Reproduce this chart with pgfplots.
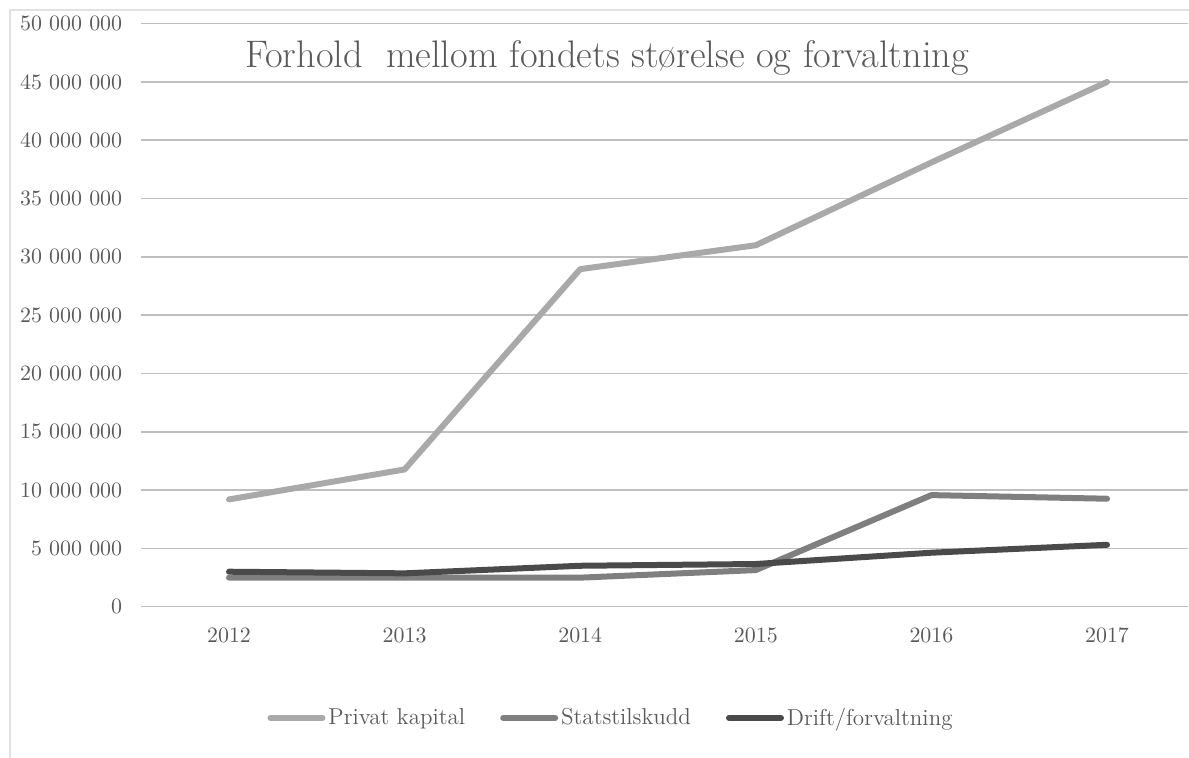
\documentclass[border=0pt]{standalone}
\usepackage{pgfplots}
\pgfplotsset{compat=1.18}
\definecolor{txt}{HTML}{595959}
\definecolor{grid}{HTML}{D9D9D9}
\definecolor{cPriv}{HTML}{A9A9A9}
\definecolor{cStat}{HTML}{7F7F7F}
\definecolor{cDrift}{HTML}{4A4A4A}
\begin{document}
\begin{tikzpicture}
\path[use as bounding box] (-70.6pt,-75.65pt) rectangle (523.9pt,303.35pt);
\draw[grid!80, line width=0.8pt] (-65.6pt,-75.65pt) -- (-65.6pt,298.35pt) -- (524.5pt,298.35pt);
\begin{axis}[
  at={(0,0)}, anchor=south west,
  scale only axis,
  width=523.3pt, height=291.5pt,
  xmin=2011.5, xmax=2017.46,
  ymin=0, ymax=50000000,
  axis line style={draw=none},
  xmajorgrids=false,
  ymajorgrids=true,
  major tick length=0pt,
  xtick={2012,2013,2014,2015,2016,2017},
  ytick={0,5000000,10000000,15000000,20000000,25000000,30000000,35000000,40000000,45000000,50000000},
  scaled y ticks=false,
  major grid style={grid, line width=0.8pt},
  xticklabel style={/pgf/number format/1000 sep={}, font=\fontsize{11}{13}\selectfont, text=txt, yshift=-7.5pt},
  yticklabel style={/pgf/number format/fixed, /pgf/number format/1000 sep={\ }, font=\fontsize{11}{13}\selectfont, text=txt, xshift=-6pt},
  legend style={at={(0.5,0)}, anchor=center, xshift=-26.5pt, yshift=-55.6pt, draw=none, fill=none,
    font=\fontsize{11.5}{13}\selectfont, text=txt, column sep=0pt,
    nodes={inner xsep=1.5pt},
    /tikz/every even column/.append style={column sep=16pt}},
  legend columns=3,
  legend image code/.code={\draw[#1, line cap=round] (0pt,0pt) -- (26pt,0pt);},
  every axis plot/.append style={line width=3pt, line cap=round, line join=round},
]
\addplot[cPriv] coordinates {(2012,9200000) (2013,11770000) (2014,28950000) (2015,31000000) (2016,38100000) (2017,45000000)};
\addlegendentry{Privat kapital}
\addplot[cStat] coordinates {(2012,2490000) (2013,2490000) (2014,2490000) (2015,3140000) (2016,9570000) (2017,9260000)};
\addlegendentry{Statstilskudd}
\addplot[cDrift] coordinates {(2012,3000000) (2013,2860000) (2014,3510000) (2015,3660000) (2016,4630000) (2017,5310000)};
\addlegendentry{Drift/forvaltning}
\end{axis}
\node[text=txt, font=\fontsize{19.2}{22}\selectfont] at (232.9pt,274.4pt) {Forhold\ \ mellom fondets størelse og forvaltning};
\end{tikzpicture}
\end{document}
